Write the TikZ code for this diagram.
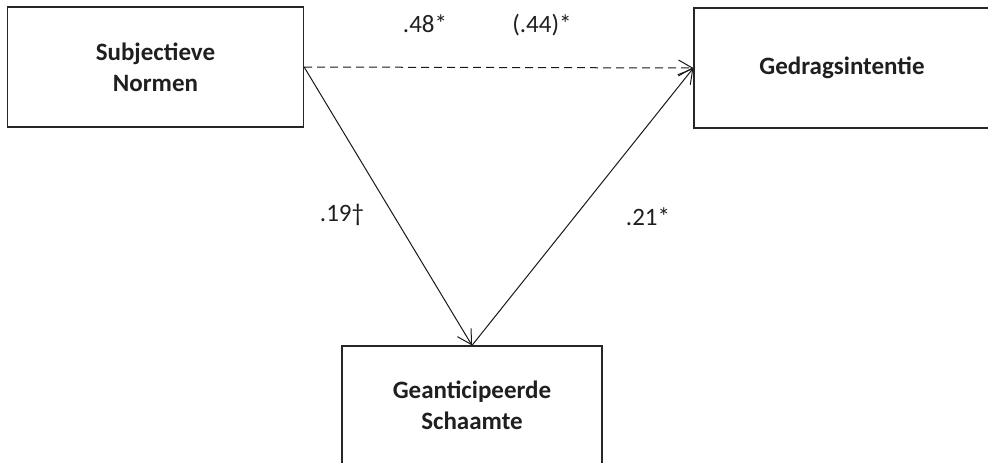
\documentclass[tikz,border=0pt]{standalone}
\usepackage{fontspec}
\setmainfont{Carlito}
\usetikzlibrary{arrows.meta}

\begin{document}
\begin{tikzpicture}[x=1pt, y=-1pt,
	box/.style={draw=black!85, line width=1.2pt, minimum width=296pt, minimum height=120pt, align=center, text=black!88, font=\fontsize{25}{31}\selectfont\bfseries},
	coef/.style={text=black!88, font=\fontsize{25}{28}\selectfont},
	path/.style={-{Straight Barb[length=14pt,width=16pt]}, line width=1pt, draw=black!90}]
	\useasboundingbox (0,0) rectangle (988,463);
	%
	\node[box] (normen) at (155.5,67) {Subjectieve\\Normen};
	\node[box] (intentie) at (842,68) {Gedragsintentie};
	\node[box, minimum width=260pt, minimum height=118pt] (schaamte) at (472,405) {Geanticipeerde\\Schaamte};
	%
	\draw[path, dash pattern=on 8pt off 5pt] (normen.east) -- (intentie.west);
	\draw[path] (normen.east) -- (schaamte.north);
	\draw[path] (schaamte.north) -- (intentie.west);
	%
	\node[coef] (c48) at (425,24) {.48*};
	\node[coef] (c44) at (542,25) {(.44)*};
	\node[coef] (c19) at (342,215) {.19†};
	\node[coef] (c21) at (648,217) {.21*};
\end{tikzpicture}
\end{document}
